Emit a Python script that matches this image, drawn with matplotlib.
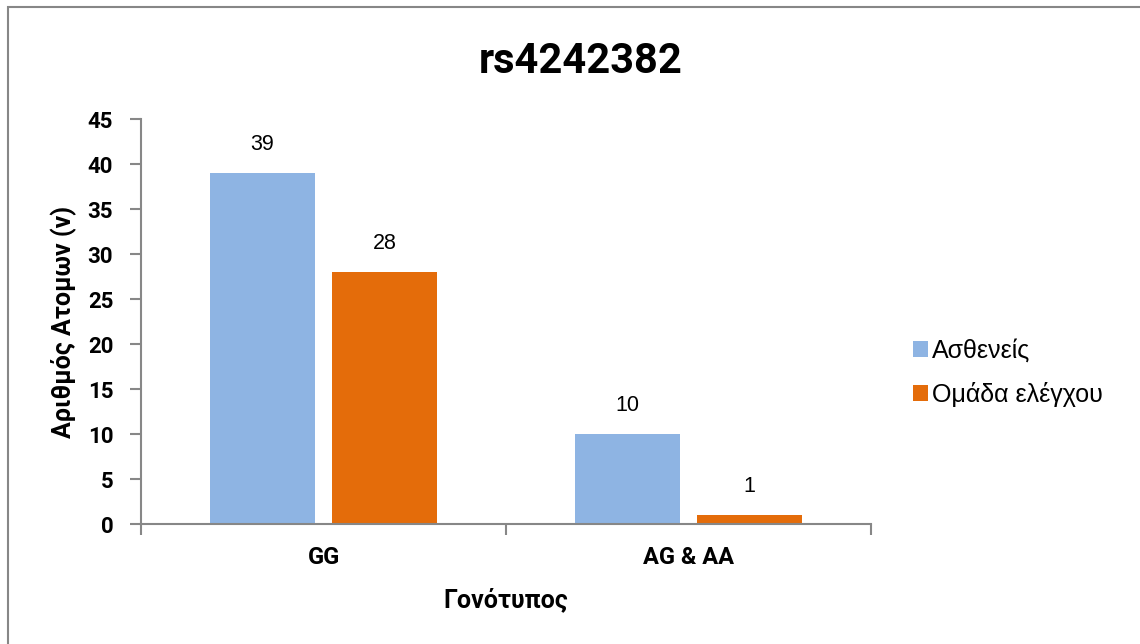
import matplotlib.pyplot as plt
import numpy as np
from matplotlib.patches import Rectangle

# Δεδομένα
genotypes = ['GG', 'AG & AA']
patients = [39, 10]
controls = [28, 1]
series_names = ['Ασθενείς', 'Ομάδα ελέγχου']
y_ticks = [0, 5, 10, 15, 20, 25, 30, 35, 40, 45]

blue = '#8EB4E3'
orange = '#E46C0A'
grey = '#878787'

plt.rcParams['font.family'] = ['Liberation Sans', 'DejaVu Sans']
bold_font = {'family': ['Roboto', 'DejaVu Sans'], 'weight': 'bold'}

fig = plt.figure(figsize=(11.4, 6.44), dpi=100)
ax = fig.add_axes([0.1237, 0.1863, 0.6404, 0.6289])

x = np.arange(len(genotypes))
w = 0.288
b1 = ax.bar(x - 0.167, patients, w, color=blue, label=series_names[0])
b2 = ax.bar(x + 0.167, controls, w, color=orange, label=series_names[1])

# Ετικέτες τιμών
for bars in (b1, b2):
    for rect in bars:
        ax.annotate(f'{int(rect.get_height())}',
                    (rect.get_x() + rect.get_width() / 2, rect.get_height()),
                    xytext=(0, 13), textcoords='offset points',
                    ha='center', va='bottom', fontsize=15.5)

ax.set_xlim(-0.5, 1.5)
ax.set_ylim(0, 45)
ax.set_yticks(y_ticks)
ax.set_yticklabels([str(t) for t in y_ticks], fontsize=16, **bold_font)
ax.set_xticks(x)
ax.set_xticklabels(genotypes, fontsize=17, **bold_font)
ax.set_xticks([-0.5, 0.5, 1.5], minor=True)
ax.tick_params(axis='x', which='major', length=0, pad=16)
ax.tick_params(axis='x', which='minor', length=8, width=1.5, color=grey)
ax.tick_params(axis='y', length=8, width=1.5, color=grey, pad=12)

for s in ['top', 'right']:
    ax.spines[s].set_visible(False)
for s in ['left', 'bottom']:
    ax.spines[s].set_color(grey)
    ax.spines[s].set_linewidth(1.5)

ax.set_ylabel('Αριθμός Ατομων (ν)', fontsize=18, labelpad=8, **bold_font)
ax.set_xlabel('Γονότυπος', fontsize=18, labelpad=13, **bold_font)

fig.text(0.509, 0.905, 'rs4242382', ha='center', va='center',
         fontsize=30, **bold_font)

leg = fig.legend(loc='center left', bbox_to_anchor=(0.790, 0.421),
                 frameon=False, handlelength=0.6, handleheight=0.6,
                 handletextpad=0.15, labelspacing=0.75, borderpad=0,
                 prop={'family': ['Liberation Sans', 'DejaVu Sans'], 'size': 18})

# Πλαίσιο γραφήματος
fig.patches.append(Rectangle((8 / 1140, -0.1), 1.2, 1 - 7 / 644 + 0.1,
                             transform=fig.transFigure, fill=False,
                             edgecolor=grey, linewidth=1.5))

fig.savefig('out.png', dpi=100)
